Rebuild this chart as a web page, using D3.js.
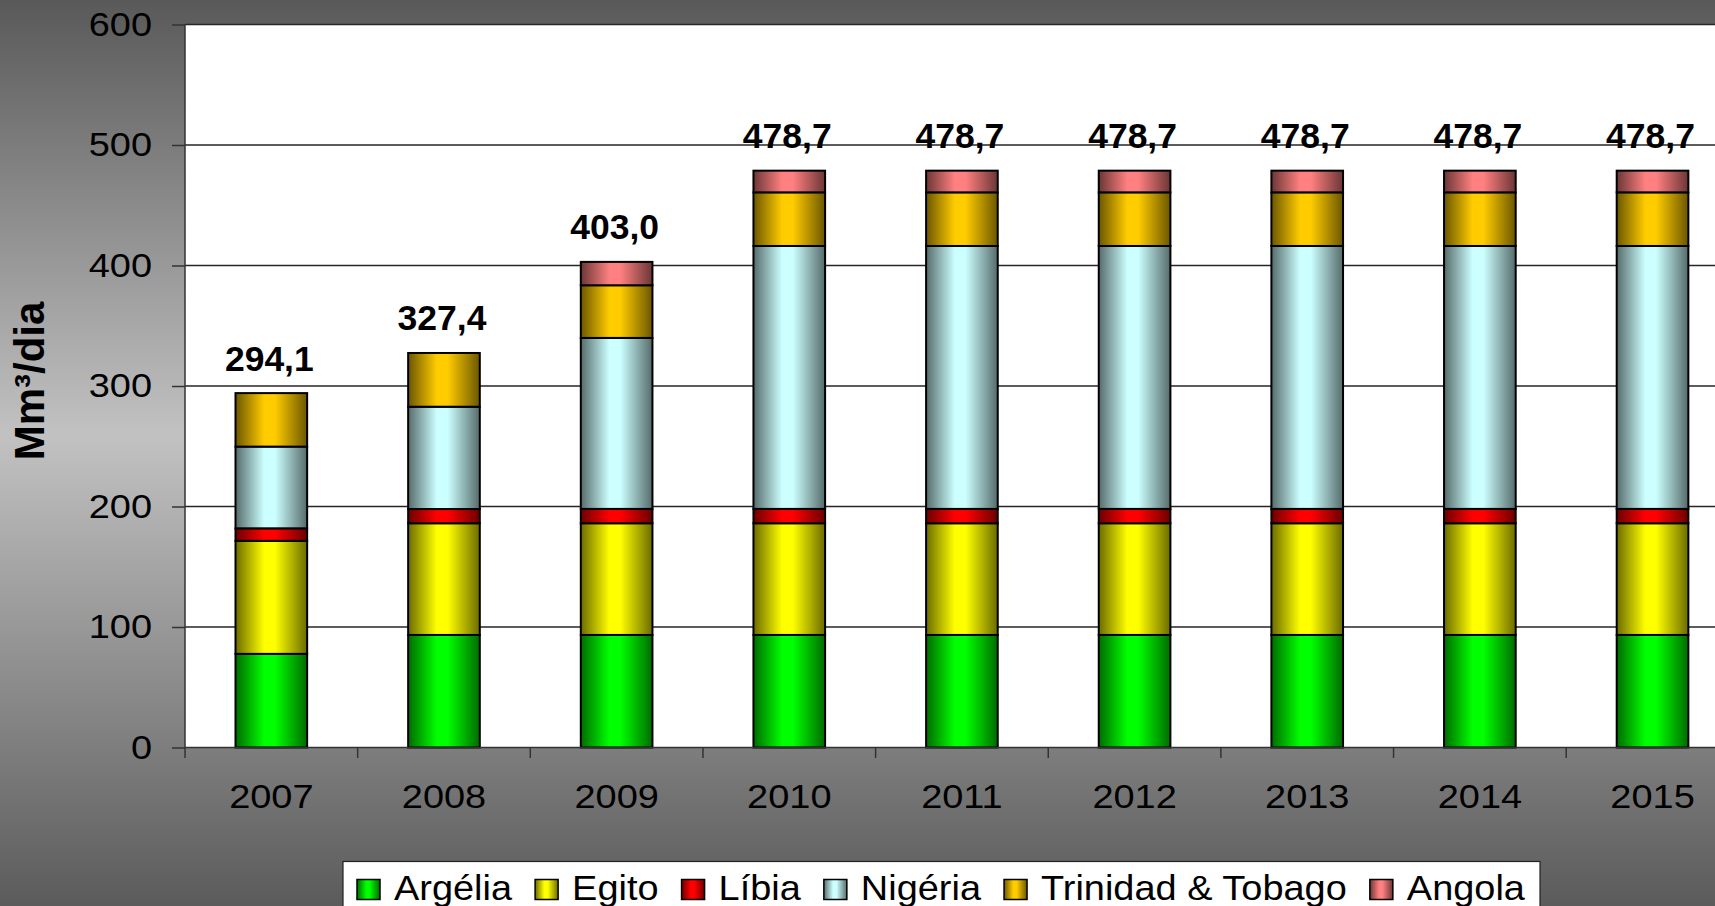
<!DOCTYPE html>
<html>
<head>
<meta charset="utf-8">
<script src="https://cdn.jsdelivr.net/npm/d3@7"></script>
<style>
  html, body { margin: 0; padding: 0; overflow: hidden; background: #5e5e5e; }
  text { font-family: "Liberation Sans", Arial, sans-serif; }
</style>
</head>
<body>
<script>
// Data (Mm³/dia)
const years = ["2007", "2008", "2009", "2010", "2011", "2012", "2013", "2014", "2015"];
const argelia  = [77.7, 93.4, 93.4, 93.4, 93.4, 93.4, 93.4, 93.4, 93.4];
const egito    = [93.8, 92.7, 92.7, 92.7, 92.7, 92.7, 92.7, 92.7, 92.7];
const libia    = [10.4, 11.8, 11.9, 11.9, 11.9, 11.9, 11.9, 11.9, 11.9];
const nigeria  = [67.8, 84.9, 141.9, 218.2, 218.2, 218.2, 218.2, 218.2, 218.2];
const trinidad = [44.4, 44.6, 43.7, 44.5, 44.5, 44.5, 44.5, 44.5, 44.5];
const angola   = [0, 0, 19.4, 18.0, 18.0, 18.0, 18.0, 18.0, 18.0];

const seriesNames  = ["Argélia", "Egito", "Líbia", "Nigéria", "Trinidad & Tobago", "Angola"];
const seriesValues = [argelia, egito, libia, nigeria, trinidad, angola];
const seriesColors = ["#00ff00", "#ffff00", "#ff0000", "#ccffff", "#ffcc00", "#ff8080"];
const yTicks = [0, 100, 200, 300, 400, 500, 600];

// Layout
const width = 1715, height = 906;
const plotLeft = 185, plotTop = 24.5, plotBottom = 747.5;
const step = 172.65;

const svg = d3.select("body").append("svg")
  .attr("width", width)
  .attr("height", height);

const defs = svg.append("defs");

// background gradient (dark - light - dark)
const bg = defs.append("linearGradient").attr("id", "bg")
  .attr("x1", 0).attr("y1", 0).attr("x2", 0).attr("y2", 1);
bg.append("stop").attr("offset", "0%").attr("stop-color", "#595959");
bg.append("stop").attr("offset", "48%").attr("stop-color", "#c2c2c2");
bg.append("stop").attr("offset", "100%").attr("stop-color", "#5b5b5b");

// horizontal bar shading per series
seriesColors.forEach((c, i) => {
  const base = d3.rgb(c);
  const dark = d3.rgb(base.r * 0.42, base.g * 0.42, base.b * 0.42);
  const g = defs.append("linearGradient").attr("id", "grad" + i)
    .attr("x1", 0).attr("y1", 0).attr("x2", 1).attr("y2", 0);
  g.append("stop").attr("offset", "0%").attr("stop-color", dark);
  g.append("stop").attr("offset", "40%").attr("stop-color", base);
  g.append("stop").attr("offset", "55%").attr("stop-color", base);
  g.append("stop").attr("offset", "100%").attr("stop-color", dark);
});

svg.append("rect")
  .attr("width", width).attr("height", height)
  .attr("fill", "url(#bg)");

// Scales
const x = d3.scaleBand()
  .domain(years)
  .range([plotLeft, plotLeft + step * years.length])
  .padding(0);

const y = d3.scaleLinear()
  .domain([0, 600])
  .range([plotBottom, plotTop]);

// plot area
svg.append("rect")
  .attr("x", plotLeft).attr("y", plotTop)
  .attr("width", width - plotLeft).attr("height", plotBottom - plotTop)
  .attr("fill", "#ffffff");

// gridlines
svg.append("g")
  .selectAll("line")
  .data(yTicks.filter(d => d > 0))
  .enter().append("line")
    .attr("x1", plotLeft).attr("x2", width)
    .attr("y1", d => y(d)).attr("y2", d => y(d))
    .attr("stroke", "#262626")
    .attr("stroke-width", 1.3);

// Stack the data
const table = years.map((yr, i) => {
  const row = { year: yr };
  seriesNames.forEach((n, k) => { row[n] = seriesValues[k][i]; });
  return row;
});
const stacked = d3.stack().keys(seriesNames)(table);

const barWidth = step * 0.415;

svg.append("g")
  .selectAll("g")
  .data(stacked)
  .enter().append("g")
    .attr("fill", (d, i) => `url(#grad${i})`)
  .selectAll("rect")
  .data(d => d.filter(p => p[1] - p[0] > 0))
  .enter().append("rect")
    .attr("x", d => x(d.data.year) + (step - barWidth) / 2)
    .attr("y", d => y(d[1]))
    .attr("width", barWidth)
    .attr("height", d => y(d[0]) - y(d[1]))
    .attr("stroke", "#000")
    .attr("stroke-width", 2);

// totals above bars
const fmt = d3.formatLocale({ decimal: ",", thousands: ".", grouping: [3], currency: ["", ""] }).format(".1f");
const totals = years.map((yr, i) => d3.sum(seriesValues, s => s[i]));

svg.append("g")
  .selectAll("text")
  .data(totals)
  .enter().append("text")
    .attr("x", (d, i) => x(years[i]) + step / 2 - 2)
    .attr("y", d => y(d) - 22.5)
    .attr("text-anchor", "middle")
    .style("font-size", "35.5px")
    .style("font-weight", "bold")
    .attr("fill", "#000")
    .text(d => fmt(d));

// Y axis
const tickScaleX = 1.15;
const yAxis = svg.append("g")
  .attr("transform", `translate(${plotLeft},0)`)
  .call(d3.axisLeft(y).tickValues(yTicks).tickSize(13).tickPadding(20));
yAxis.select(".domain").remove();
yAxis.selectAll(".tick line").attr("stroke", "#333").attr("stroke-width", 1.5);
yAxis.selectAll(".tick text")
  .attr("x", -33 / tickScaleX)
  .attr("transform", `scale(${tickScaleX},1)`)
  .attr("fill", "#000")
  .style("font-size", "33px")
  .style("font-family", "'Liberation Sans', Arial, sans-serif");

svg.append("line")
  .attr("x1", plotLeft).attr("x2", plotLeft)
  .attr("y1", plotTop).attr("y2", plotBottom + 10.5)
  .attr("stroke", "#333").attr("stroke-width", 1.5);

// X axis
const xAxis = svg.append("g")
  .attr("transform", `translate(0,${plotBottom})`)
  .call(d3.axisBottom(x).tickSize(0).tickPadding(37.5));
xAxis.select(".domain").remove();
xAxis.selectAll(".tick text")
  .attr("transform", `scale(${tickScaleX},1)`)
  .attr("fill", "#000")
  .style("font-size", "33px")
  .style("font-family", "'Liberation Sans', Arial, sans-serif");

svg.append("line")
  .attr("x1", plotLeft).attr("x2", width)
  .attr("y1", plotBottom).attr("y2", plotBottom)
  .attr("stroke", "#333").attr("stroke-width", 1.5);

// category boundary ticks
svg.append("g")
  .selectAll("line")
  .data(years.slice(1))
  .enter().append("line")
    .attr("x1", d => x(d)).attr("x2", d => x(d))
    .attr("y1", plotBottom).attr("y2", plotBottom + 10.5)
    .attr("stroke", "#333").attr("stroke-width", 1.5);

// Y axis title
svg.append("text")
  .attr("transform", "translate(43.5,381) rotate(-90)")
  .attr("text-anchor", "middle")
  .style("font-size", "42px")
  .style("font-weight", "bold")
  .attr("fill", "#000")
  .text("Mm³/dia");

// Legend
const legendLeft = 343, legendRight = 1540, legendTop = 861.5;
const itemsStart = 357, itemsEnd = 1525;
const swatchW = 23, swatchH = 20, swatchGap = 14, itemGap = 23;

const legend = svg.append("g").attr("class", "legend");
legend.append("rect")
  .attr("x", legendLeft).attr("y", legendTop)
  .attr("width", legendRight - legendLeft).attr("height", 60)
  .attr("fill", "#fff")
  .attr("stroke", "#222").attr("stroke-width", 1.2);

const items = legend.selectAll("g.item")
  .data(seriesNames)
  .enter().append("g").attr("class", "item");

items.append("rect")
  .attr("y", 879.5)
  .attr("width", swatchW).attr("height", swatchH)
  .attr("fill", (d, i) => `url(#grad${i})`)
  .attr("stroke", "#000").attr("stroke-width", 1.5);

const labels = items.append("text")
  .attr("y", 900)
  .style("font-size", "34.5px")
  .attr("fill", "#000")
  .text(d => d);

// stretch the legend text so the row spans the box like the original
const rawWidths = labels.nodes().map(n => n.getComputedTextLength());
const fixed = seriesNames.length * (swatchW + swatchGap) + (seriesNames.length - 1) * itemGap;
const legendScaleX = (itemsEnd - itemsStart - fixed) / d3.sum(rawWidths);

let cursor = itemsStart;
items.each(function(d, i) {
  const g = d3.select(this);
  g.select("rect").attr("x", cursor);
  const tx = cursor + swatchW + swatchGap;
  g.select("text")
    .attr("x", tx / legendScaleX)
    .attr("transform", `scale(${legendScaleX},1)`);
  cursor = tx + rawWidths[i] * legendScaleX + itemGap;
});
</script>
</body>
</html>
